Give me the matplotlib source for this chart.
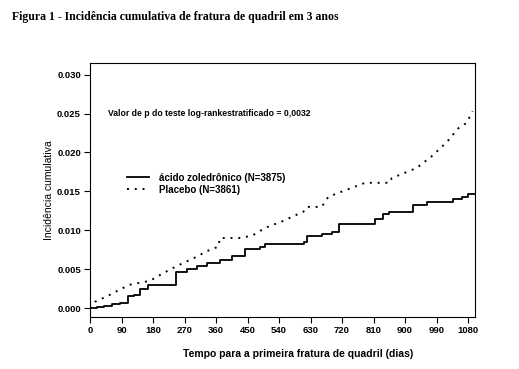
import matplotlib
matplotlib.use("Agg")
import matplotlib.pyplot as plt

# Zoledronic acid curve (step), days vs cumulative incidence
zol_days = [0, 20, 40, 62, 86, 108, 125, 143, 167, 228, 247, 276, 305, 333, 371,
            405, 438, 443, 486, 500, 576, 610, 619, 662, 690, 710, 814, 838, 853,
            924, 962, 1038, 1062, 1081, 1100]
zol_inc = [0.0, 0.0001, 0.0003, 0.0005, 0.0007, 0.0015, 0.0017, 0.0025, 0.0030,
           0.0030, 0.0046, 0.0050, 0.0054, 0.0058, 0.0062, 0.0067, 0.0067, 0.0076,
           0.0079, 0.0082, 0.0082, 0.0085, 0.0092, 0.0095, 0.0098, 0.0108, 0.0114,
           0.0121, 0.0124, 0.0133, 0.0136, 0.0140, 0.0143, 0.0147, 0.0147]

# Placebo curve (dotted)
pla_days = [0, 14, 48, 86, 114, 171, 210, 248, 305, 333, 367, 371, 433, 467, 500,
            552, 610, 619, 662, 681, 733, 786, 857, 862, 933, 976, 1019, 1052,
            1076, 1093]
pla_inc = [0.0, 0.0008, 0.0015, 0.0024, 0.0030, 0.0035, 0.0045, 0.0054, 0.0066,
           0.0073, 0.0079, 0.0090, 0.0090, 0.0094, 0.0103, 0.0112, 0.0124, 0.0130,
           0.0130, 0.0143, 0.0152, 0.0161, 0.0161, 0.0167, 0.0180, 0.0195, 0.0213,
           0.0231, 0.0238, 0.0253]

x_ticks = list(range(0, 1081, 90))
y_ticks = [0.000, 0.005, 0.010, 0.015, 0.020, 0.025, 0.030]

plt.rcParams['font.family'] = ['Liberation Sans', 'DejaVu Sans']

fig = plt.figure(figsize=(5.19, 3.69), dpi=100)
ax = fig.add_axes([90 / 519, 1 - 317 / 369, 385 / 519, 254 / 369])

ax.step(zol_days, zol_inc, where='post', color='black', lw=1.3,
        label='ácido zoledrônico (N=3875)')
ax.plot(pla_days, pla_inc, color='black', lw=1.4, linestyle=(0, (1, 3)),
        label='Placebo (N=3861)')

ax.set_xlim(0, 1100)
ax.set_ylim(-0.00115, 0.0315)
ax.set_xticks(x_ticks)
ax.set_yticks(y_ticks)
ax.set_yticklabels([f"{v:.3f}" for v in y_ticks])
ax.tick_params(labelsize=6.8, length=4, width=0.8, pad=2.5)
for lbl in ax.get_xticklabels() + ax.get_yticklabels():
    lbl.set_fontweight('bold')
for s in ax.spines.values():
    s.set_linewidth(0.8)

ax.set_xlabel("Tempo para a primeira fratura de quadril (dias)", fontsize=7.5,
              fontweight='bold')
ax.xaxis.set_label_coords(0.54, -0.125)
ax.set_ylabel("Incidência cumulativa", fontsize=7.5)
ax.yaxis.set_label_coords(-0.094, 0.5)

ax.text(51, 0.025, "Valor de p do teste log-rankestratificado = 0,0032",
        fontsize=6.2, fontweight='bold', va='center', ha='left')

leg = ax.legend(loc='center left', bbox_to_anchor=(0.096, 0.525), frameon=False,
                fontsize=7, borderpad=0, borderaxespad=0, handlelength=2.3,
                handletextpad=1.0, labelspacing=0.2)
for t in leg.get_texts():
    t.set_fontweight('bold')

fig.text(12 / 519, 1 - 20 / 369,
         "Figura 1 - Incidência cumulativa de fratura de quadril em 3 anos",
         family='Liberation Serif', fontsize=8.5, fontweight='bold',
         ha='left', va='baseline')

fig.savefig("out.png", dpi=100)
